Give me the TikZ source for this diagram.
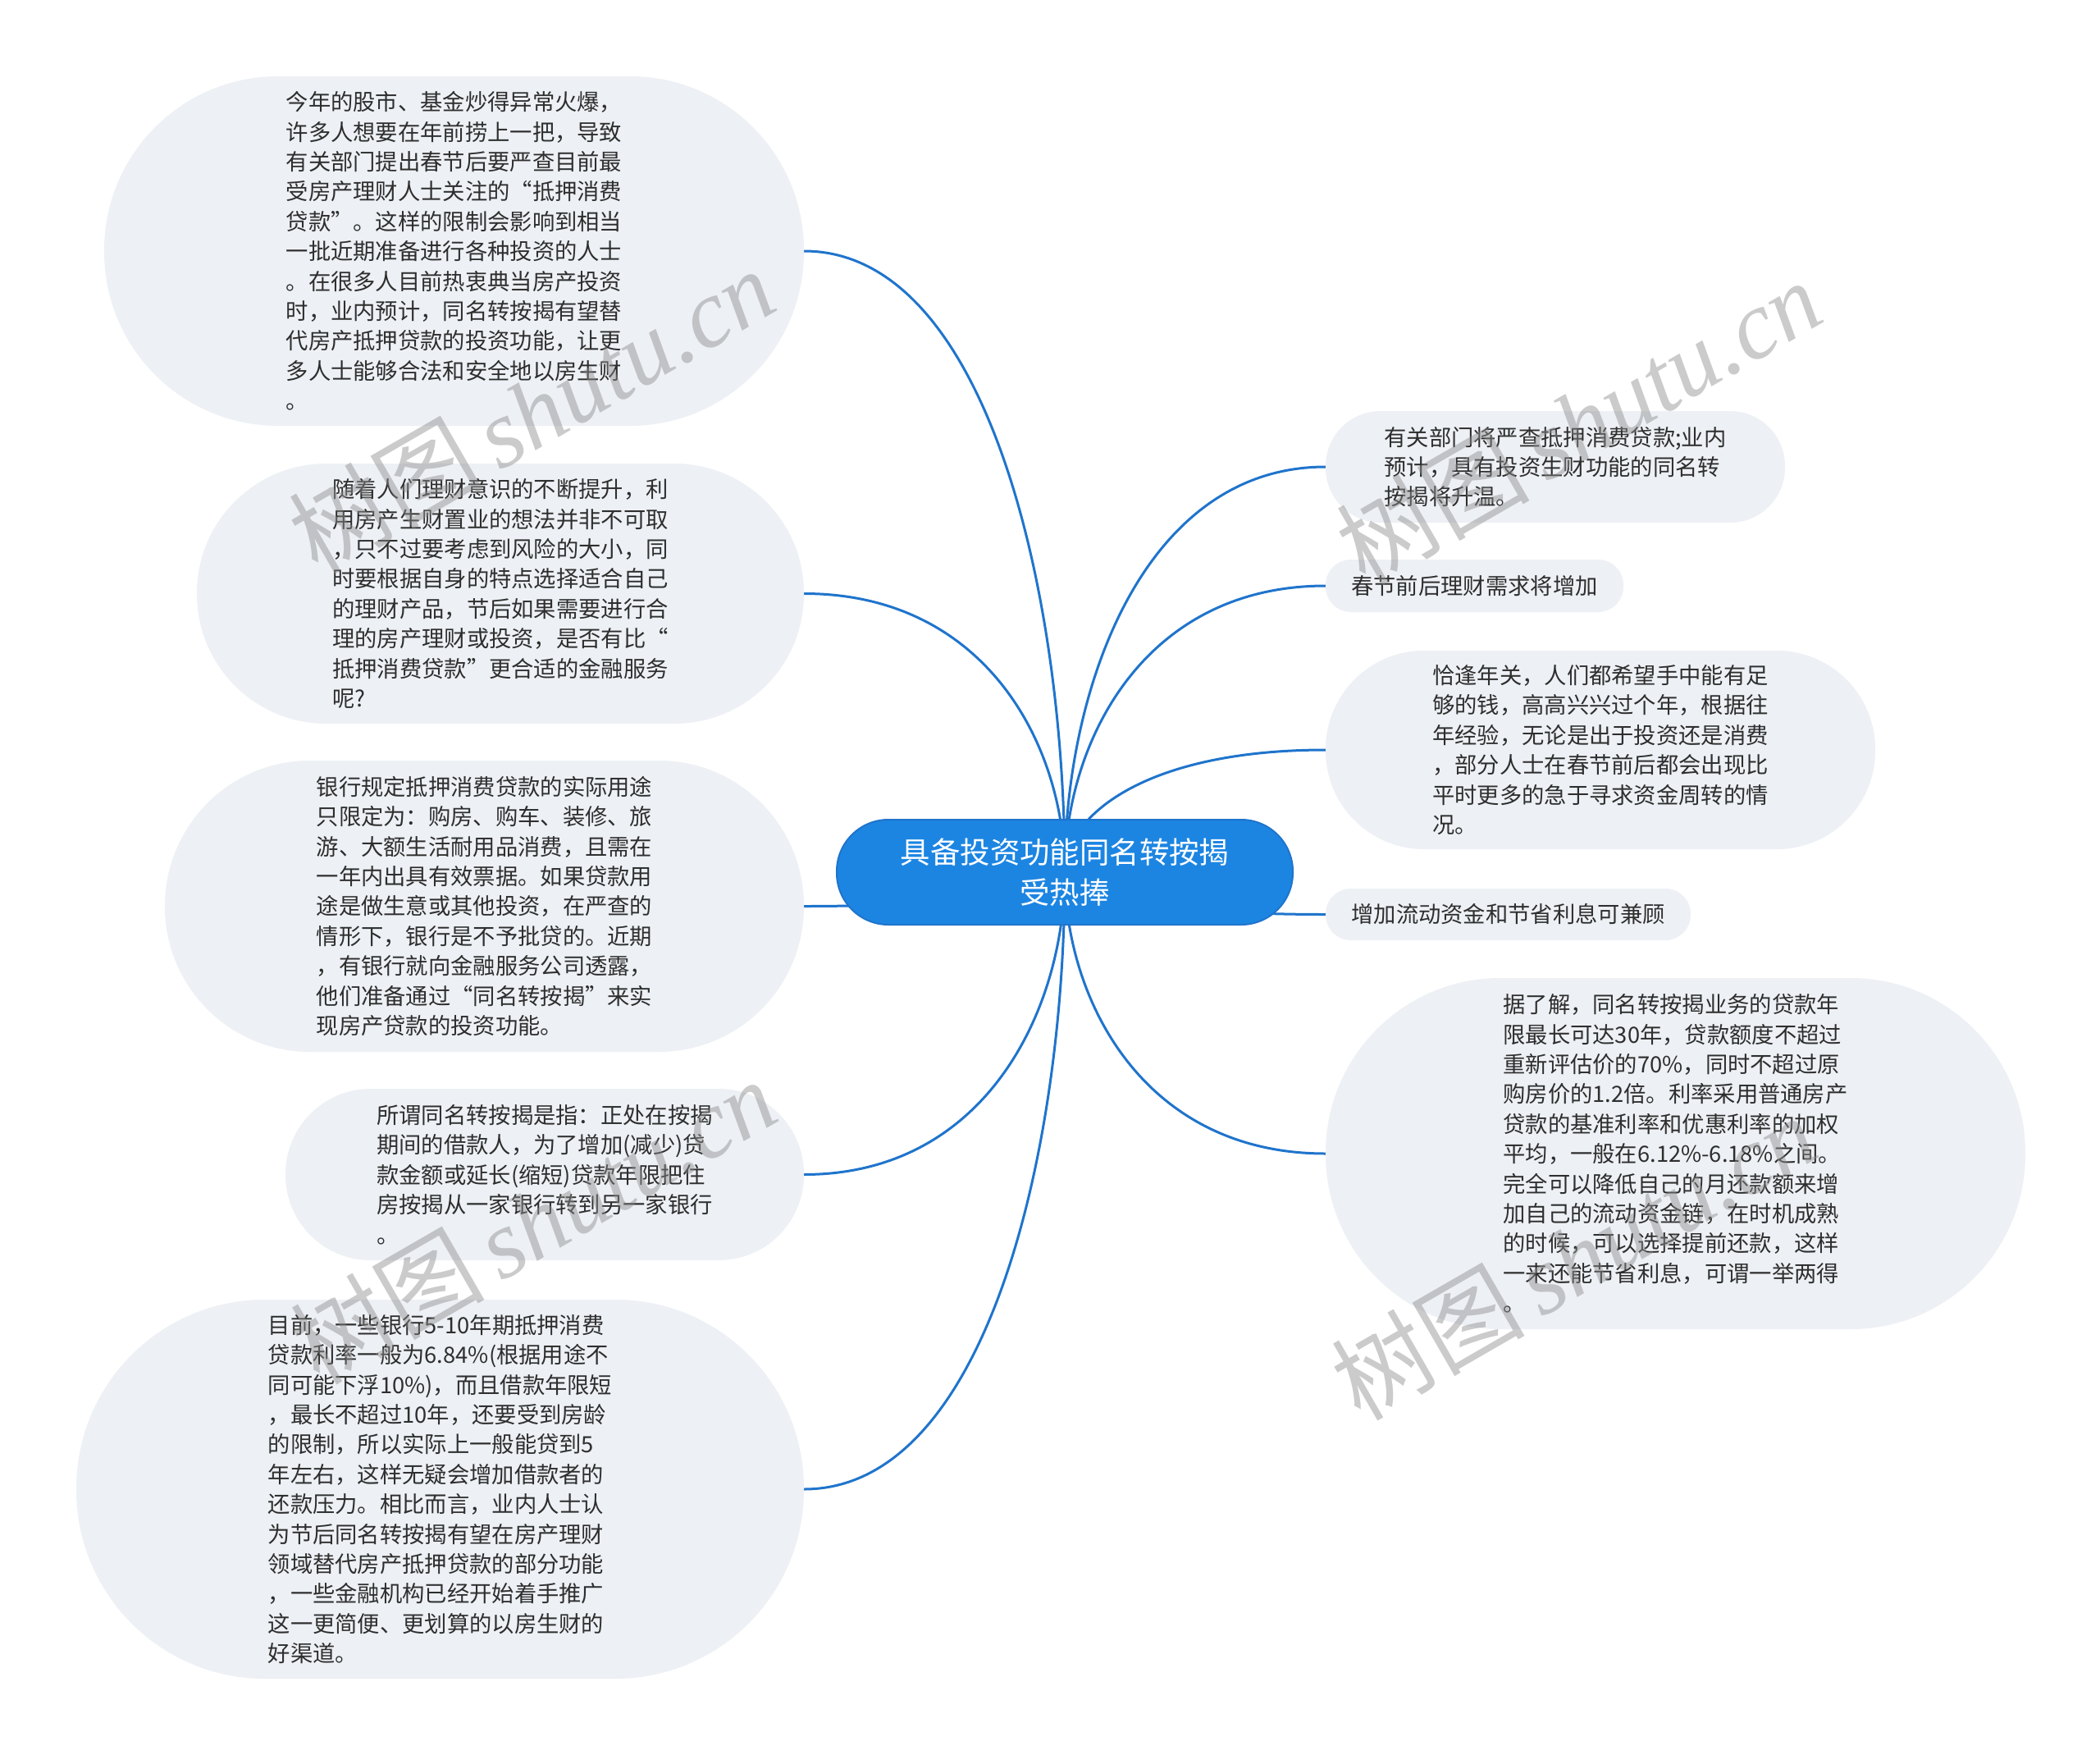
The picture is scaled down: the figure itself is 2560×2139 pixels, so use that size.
\documentclass[tikz,border=0pt]{standalone}
\usepackage{fontspec}
\setmainfont{Noto Sans CJK SC}
\newfontfamily\wmlatin{Liberation Serif}
\usetikzlibrary{backgrounds}
\definecolor{linec}{HTML}{1F74CC}
\definecolor{ctrfill}{HTML}{1C85E2}
\definecolor{leaffill}{HTML}{EDF0F4}
\definecolor{txtc}{HTML}{2E2E2E}
\definecolor{wmc}{HTML}{8C8C8C}
\tikzset{
  leaf/.style={fill=leaffill, text=txtc, align=left, inner sep=0pt, font=\fontsize{27.3}{36.4}\selectfont},
  hub/.style={fill=ctrfill, draw=linec, line width=2pt, text=white, align=center, inner sep=0pt, font=\fontsize{36.4}{49}\selectfont},
  link/.style={draw=linec, line width=3pt},
  wmark/.style={text=wmc, opacity=0.45, rotate=30, inner sep=0pt, font=\fontsize{118}{118}\selectfont}
}
\begin{document}
\begin{tikzpicture}[x=1pt,y=-1pt]
\useasboundingbox (0,0) rectangle (2560,2139);

% centre
\node[hub, minimum width=556, minimum height=128, rounded corners=63] (ctr) at (1298,1063)
  {具备投资功能同名转按揭\\受热捧};

% left branches
\node[leaf, minimum width=853, minimum height=426, rounded corners=212] (L1) at (553.5,306)
  {今年的股市、基金炒得异常火爆，\\许多人想要在年前捞上一把，导致\\有关部门提出春节后要严查目前最\\受房产理财人士关注的“抵押消费\\贷款”。这样的限制会影响到相当\\一批近期准备进行各种投资的人士\\。在很多人目前热衷典当房产投资\\时，业内预计，同名转按揭有望替\\代房产抵押贷款的投资功能，让更\\多人士能够合法和安全地以房生财\\。};
\node[leaf, minimum width=740, minimum height=317, rounded corners=158] (L2) at (610,723.5)
  {随着人们理财意识的不断提升，利\\用房产生财置业的想法并非不可取\\，只不过要考虑到风险的大小，同\\时要根据自身的特点选择适合自己\\的理财产品，节后如果需要进行合\\理的房产理财或投资，是否有比“\\抵押消费贷款”更合适的金融服务\\呢?};
\node[leaf, minimum width=779, minimum height=355, rounded corners=177] (L3) at (590.5,1104.5)
  {银行规定抵押消费贷款的实际用途\\只限定为：购房、购车、装修、旅\\游、大额生活耐用品消费，且需在\\一年内出具有效票据。如果贷款用\\途是做生意或其他投资，在严查的\\情形下，银行是不予批贷的。近期\\，有银行就向金融服务公司透露，\\他们准备通过“同名转按揭”来实\\现房产贷款的投资功能。};
\node[leaf, minimum width=632, minimum height=209, rounded corners=104] (L4) at (664,1431.5)
  {所谓同名转按揭是指：正处在按揭\\期间的借款人，为了增加(减少)贷\\款金额或延长(缩短)贷款年限把住\\房按揭从一家银行转到另一家银行\\。};
\node[leaf, minimum width=887, minimum height=462, rounded corners=230] (L5) at (536.5,1815)
  {目前，一些银行5-10年期抵押消费\\贷款利率一般为6.84\%(根据用途不\\同可能下浮10\%)，而且借款年限短\\，最长不超过10年，还要受到房龄\\的限制，所以实际上一般能贷到5\\年左右，这样无疑会增加借款者的\\还款压力。相比而言，业内人士认\\为节后同名转按揭有望在房产理财\\领域替代房产抵押贷款的部分功能\\，一些金融机构已经开始着手推广\\这一更简便、更划算的以房生财的\\好渠道。};

% right branches
\node[leaf, minimum width=560, minimum height=136, rounded corners=67] (R1) at (1896,569)
  {有关部门将严查抵押消费贷款;业内\\预计，具有投资生财功能的同名转\\按揭将升温。};
\node[leaf, minimum width=363, minimum height=64, rounded corners=31] (R2) at (1797.5,714)
  {春节前后理财需求将增加};
\node[leaf, minimum width=670, minimum height=242, rounded corners=120] (R3) at (1951,914)
  {恰逢年关，人们都希望手中能有足\\够的钱，高高兴兴过个年，根据往\\年经验，无论是出于投资还是消费\\，部分人士在春节前后都会出现比\\平时更多的急于寻求资金周转的情\\况。};
\node[leaf, minimum width=445, minimum height=63, rounded corners=31] (R4) at (1838.5,1114.5)
  {增加流动资金和节省利息可兼顾};
\node[leaf, minimum width=853, minimum height=428, rounded corners=213] (R5) at (2042.5,1406)
  {据了解，同名转按揭业务的贷款年\\限最长可达30年，贷款额度不超过\\重新评估价的70\%，同时不超过原\\购房价的1.2倍。利率采用普通房产\\贷款的基准利率和优惠利率的加权\\平均，一般在6.12\%-6.18\%之间。\\完全可以降低自己的月还款额来增\\加自己的流动资金链，在时机成熟\\的时候，可以选择提前还款，这样\\一来还能节省利息，可谓一举两得\\。};

% connectors (behind the nodes)
\begin{pgfonlayer}{background}
\fill[white] (0,0) rectangle (2560,2139);
\draw[link] (ctr.center) .. controls +(0,-340.7) and +(222.6,0) .. (L1.east);
\draw[link] (ctr.center) .. controls +(0,-152.8) and +(222.6,0) .. (L2.east);
\draw[link] (ctr.center) .. controls +(0,18.7) and +(222.6,0) .. (L3.east);
\draw[link] (ctr.center) .. controls +(0,165.8) and +(222.6,0) .. (L4.east);
\draw[link] (ctr.center) .. controls +(0,338.4) and +(222.6,0) .. (L5.east);
\draw[link] (ctr.center) .. controls +(0,-222.3) and +(-222.6,0) .. (R1.west);
\draw[link] (ctr.center) .. controls +(0,-157) and +(-222.6,0) .. (R2.west);
\draw[link] (ctr.center) .. controls +(0,-67) and +(-222.6,0) .. (R3.west);
\draw[link] (ctr.center) .. controls +(0,23.2) and +(-222.6,0) .. (R4.west);
\draw[link] (ctr.center) .. controls +(0,154.4) and +(-222.6,0) .. (R5.west);
\end{pgfonlayer}

% watermarks
\node[wmark] (wm1) at (648,500) {树图\,{\wmlatin\itshape shutu.cn}};
\node[wmark] (wm2) at (1924,514) {树图\,{\wmlatin\itshape shutu.cn}};
\node[wmark] (wm3) at (650,1488) {树图\,{\wmlatin\itshape shutu.cn}};
\node[wmark] (wm4) at (1918,1532) {树图\,{\wmlatin\itshape shutu.cn}};
\end{tikzpicture}
\end{document}
